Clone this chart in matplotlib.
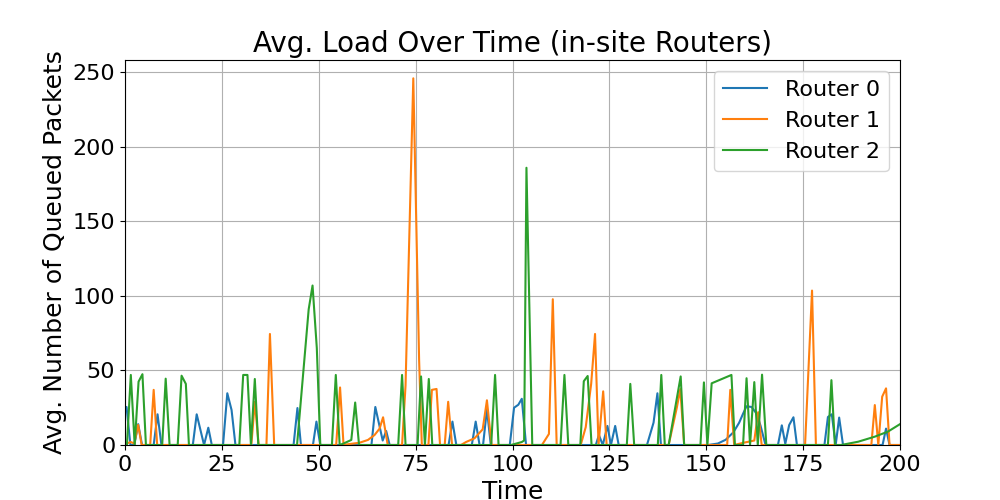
import matplotlib
matplotlib.use("Agg")
import matplotlib.pyplot as plt

# ------------------- data (time, avg. queued packets) -------------------
router0_t = [0, 0.4, 1.4, 2.4, 3.4, 4.4, 7.4, 8.4, 9.4, 17.5, 18.5, 20.4, 21.5, 22.4,
             25.3, 26.4, 27.5, 28.5, 43.5, 44.5, 45.4, 48.5, 49.4, 50.4,
             63.6, 64.6, 66.5, 67.4, 68.3, 83.5, 84.5, 85.5, 89.5, 90.5, 91.5,
             92.4, 93.4, 94.4, 99.3, 100.4, 101.5, 102.4, 103.5,
             121.5, 122.3, 123.3, 124.5, 125.4, 126.5, 127.4,
             134.7, 136.4, 137.4, 138.3, 150.5, 153, 155, 157, 158.5, 159.5, 160.4,
             161.7, 163, 164, 165.3, 168.5, 169.5, 170.4, 171.4, 172.5, 173.4,
             180.5, 181.4, 182.4, 183.4, 184.3, 185.3, 195.5, 196.4, 197.3, 200]
router0_v = [25.5, 25.5, 0, 0, 14, 0, 0, 20.6, 0, 0, 20.6, 0, 11.6, 0,
             0, 34.7, 23.5, 0, 0, 24.8, 0, 0, 15.7, 0,
             0, 25.5, 3, 9.4, 0, 0, 15.7, 0, 0, 15.7, 0,
             0, 24, 0, 0, 25, 27, 31, 0,
             0, 6.7, 0, 12.8, 0, 12.8, 0,
             0, 15, 34.7, 0, 0, 1, 3.5, 8.5, 15, 21, 26,
             25.5, 21, 13, 0, 0, 13.2, 0.8, 13.4, 18.6, 0,
             0, 18.8, 20.6, 0, 18.4, 0, 0, 11, 0, 0]

router1_t = [0, 0.4, 1.5, 2.4, 3.4, 4.3, 6.5, 7.4, 8.3, 32.6, 33.5, 34.5,
             36.5, 37.4, 38.5, 54.5, 55.5, 56.4, 57.5, 60.5, 62.7, 64.4, 65.7,
             66.6, 67.8, 71.5, 72.4, 74.4, 75.9, 76.6, 78.3, 79.2, 80.4, 81.3,
             82.5, 83.4, 84.4, 86.7, 88, 90.2, 92.3, 93.4, 94.6,
             107.6, 109.4, 110.4, 111.4, 117.6, 118.9, 120.3, 121.3, 122.2,
             123.4, 124.3, 140.3, 142.4, 143.3, 144.3, 155.4, 156.2, 157.2,
             159.6, 162.4, 163.4, 164.3, 175.5, 177.3, 178.3,
             192.6, 193.5, 194.4, 195.4, 196.4, 197.3, 200]
router1_v = [0, 1, 2, 1, 13.5, 0, 0, 37, 0, 0, 29, 0,
             0, 74.5, 0, 0, 38.6, 0, 0.5, 1.5, 3.4, 6.7, 11,
             18.6, 0, 0, 40, 246, 57, 0, 0, 37, 37.6, 0,
             0, 29, 0, 0, 2, 4.5, 10.5, 30, 0,
             0, 7.4, 97.8, 0, 0, 12, 41, 74.5, 0,
             36, 0, 0, 25, 37.5, 0, 0, 37, 0,
             1.5, 3, 22, 0, 0, 103.6, 0,
             0, 26.8, 0, 32.4, 38, 0, 0]

router2_t = [0, 0.5, 1.5, 2.5, 3.5, 4.5, 5.4, 9.6, 10.5, 11.5, 13.6, 14.6, 15.7, 16.5,
             29.5, 30.5, 31.6, 32.5, 33.5, 34.4, 44.4, 47.4, 48.4, 49.5, 50.4,
             53.4, 54.4, 55.4, 56.4, 58.4, 59.4, 60.4, 70.5, 71.5, 72.4,
             75.5, 76.4, 77.4, 78.4, 79.3, 94.5, 95.5, 96.4,
             99.6, 102.4, 103.0, 103.6, 105.1, 112.4, 113.4, 114.4,
             117.5, 118.4, 119.4, 120.4, 129.5, 130.4, 131.4, 137.5, 138.4, 139.3,
             140.3, 143.4, 144.3, 148.5, 149.4, 150.3, 151.4, 156.5, 157.4,
             159.5, 160.4, 161.3, 162.4, 163.3, 164.4, 165.5,
             181.4, 182.3, 183.2, 184.8, 189.2, 193.5, 196.9, 200]
router2_v = [0, 0, 47, 0, 42.5, 47.5, 0, 0, 44.5, 0, 0, 46.5, 41, 0,
             0, 47, 47, 0, 44.3, 0, 0, 91, 107, 65, 0,
             0, 47, 0, 1, 3.4, 28.5, 0, 0, 47, 0,
             0, 46, 0, 44.3, 0, 0, 47, 0,
             0, 2, 3, 186, 0, 0, 47, 0,
             0, 42.8, 46.3, 0, 0, 41, 0, 0, 47, 0,
             0, 46, 0, 0, 42, 0, 41.4, 47, 0,
             0, 44.8, 0, 42.2, 0, 47.2, 0,
             0, 43.5, 0, 0, 2.2, 5.6, 9, 14]

# ------------------- plot -------------------
fig, ax = plt.subplots(figsize=(10, 5), dpi=100)

ax.plot(router0_t, router0_v, label="Router 0")
ax.plot(router1_t, router1_v, label="Router 1")
ax.plot(router2_t, router2_v, label="Router 2")

ax.set_xlim(0, 200)
ax.set_ylim(bottom=0)
ax.set_title("Avg. Load Over Time (in-site Routers)", fontsize=20)
ax.set_xlabel("Time", fontsize=18)
ax.set_ylabel("Avg. Number of Queued Packets", fontsize=18)
ax.tick_params(labelsize=16)
ax.grid(True)
ax.legend(loc="upper right", fontsize=16)

fig.savefig("out.png", dpi=100)
